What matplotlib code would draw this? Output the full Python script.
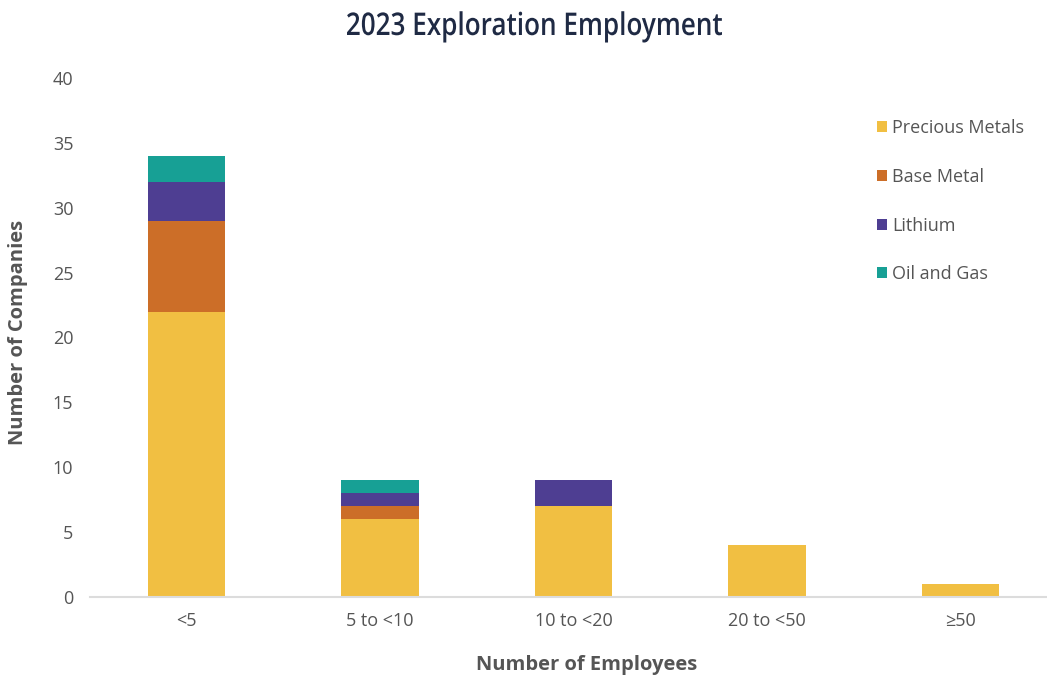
import matplotlib.pyplot as plt
import numpy as np
from matplotlib.textpath import TextPath
from matplotlib.patches import PathPatch
from matplotlib.font_manager import FontProperties
from matplotlib.transforms import Affine2D, IdentityTransform

# employee size bands and company counts per commodity
bands = ["<5", "5 to <10", "10 to <20", "20 to <50", "\u226550"]
precious_metals = [22, 6, 7, 4, 1]
base_metal = [7, 1, 0, 0, 0]
lithium = [3, 1, 2, 0, 0]
oil_and_gas = [2, 1, 0, 0, 0]

series = [
    ("Precious Metals", precious_metals, "#F1BF42"),
    ("Base Metal", base_metal, "#CC6E28"),
    ("Lithium", lithium, "#4E3E92"),
    ("Oil and Gas", oil_and_gas, "#17A095"),
]

plt.rcParams['font.family'] = ['Open Sans', 'DejaVu Sans']

fig = plt.figure(figsize=(10.47, 6.78), dpi=100)
ax = fig.add_axes([0.086, 0.1195, 0.9235, 0.7655])

x = np.arange(len(bands))
bottom = np.zeros(len(bands))
for name, vals, col in series:
    vals = np.array(vals, dtype=float)
    ax.bar(x, vals, width=0.4, bottom=bottom, color=col, label=name, zorder=2)
    bottom += vals

ax.set_xlim(-0.5, 4.5)
ax.set_ylim(0, 40)
ax.set_yticks(range(0, 41, 5))
ax.set_xticks(x)
ax.set_xticklabels(bands)

for s in ["top", "right", "left"]:
    ax.spines[s].set_visible(False)
ax.spines["bottom"].set_color("#dcdcdc")
ax.spines["bottom"].set_linewidth(1.5)
ax.tick_params(axis="both", length=0, labelsize=13, labelcolor="#555555")
ax.tick_params(axis="y", pad=12)
ax.tick_params(axis="x", pad=11)

ax.set_xlabel("Number of Employees", fontsize=14.5, fontweight="bold", color="#555555", labelpad=17)
ax.xaxis.set_label_coords(0.514, -0.111)
fig.text(0.017, 0.51, "Number of Companies", rotation=90, fontsize=14.5, fontweight="bold",
         color="#555555", ha="center", va="center")

# title: condensed look by squeezing the glyph outlines horizontally
title = "2023 Exploration Employment"
fp = FontProperties(family="Open Sans", weight="semibold")
tp = TextPath((0, 0), title, size=100, prop=fp)
ext = tp.get_extents()
digits = TextPath((0, 0), "2023", size=100, prop=fp).get_extents()
sx = 375 / ext.width
sy = 23 / digits.height
left_px, base_px = 347, 678 - 35
tr = Affine2D().translate(-ext.x0, 0).scale(sx, sy).translate(left_px, base_px)
fig.patches.append(PathPatch(tr.transform_path(tp), transform=IdentityTransform(),
                             facecolor="#1f2a44", edgecolor="none", figure=fig))

leg = ax.legend(loc="upper left", bbox_to_anchor=(0.797, 0.952), frameon=False,
                fontsize=13, handlelength=0.55, handleheight=0.55, handletextpad=0.3,
                labelspacing=1.7)
for t in leg.get_texts():
    t.set_color("#555555")

fig.savefig("out.png", dpi=100)
